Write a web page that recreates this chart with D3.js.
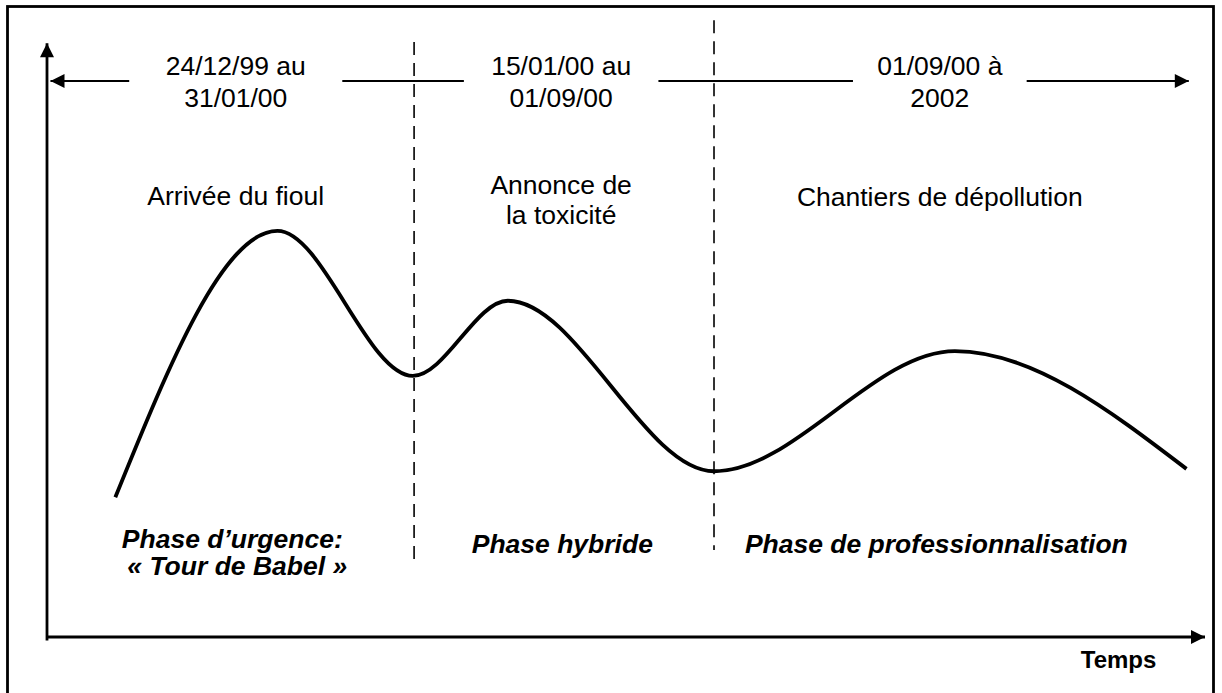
<!DOCTYPE html>
<html><head><meta charset="utf-8">
<script src="https://cdn.jsdelivr.net/npm/d3@7"></script>
<style>body{margin:0;background:#fff}svg{display:block}text{font-family:"Liberation Sans",Arial,sans-serif;fill:#000}</style>
</head><body>
<svg id="c" width="1222" height="693"></svg>
<script>
// Curve points (time, intensity) in arbitrary units 0-100
const curveTime = [5.9, 19.9, 31.6, 39.8, 57.6, 78.4, 98.4];
const curveValue = [23.6, 68.6, 44.1, 56.8, 28.0, 48.3, 28.4];
// Phase boundaries (time units)
const boundaries = [31.7, 57.6];
const boundaryTop = [100.5, 104.2];
const boundaryBottom = [12.2, 14.7];
// Period labels (top)
const periodLabels = [["24/12/99 au","31/01/00"],["15/01/00 au","01/09/00"],["01/09/00 à","2002"]];
const periodCenter = [16.3, 44.4, 77.1];
const periodHalfWidth = [9.2, 8.4, 7.5];
const eventLabels = [["Arrivée du fioul"],["Annonce de","la toxicité"],["Chantiers de dépollution"]];
const eventCenter = [16.3, 44.4, 77.1];
const phaseLabels = [["Phase d\u2019urgence:","\u00ab Tour de Babel \u00bb"],["Phase hybride"],["Phase de professionnalisation"]];
const phaseCenter = [16.0, 44.5, 76.8];
const axisLabel = "Temps";

const svg = d3.select("#c");
const x = d3.scaleLinear().domain([0,100]).range([47,1205]);
const y = d3.scaleLinear().domain([0,100]).range([637,45]);

const defs = svg.append("defs");
defs.append("marker").attr("id","ah").attr("viewBox","0 0 10 10").attr("refX",10).attr("refY",5)
  .attr("markerWidth",18).attr("markerHeight",14).attr("markerUnits","userSpaceOnUse").attr("orient","auto-start-reverse")
  .append("path").attr("d","M0,0 L10,5 L0,10 Z").attr("fill","#000");

// frame
svg.append("rect").attr("x",7.5).attr("y",6.5).attr("width",1206).attr("height",690).attr("fill","none").attr("stroke","#000").attr("stroke-width",2.8);

// axes
svg.append("line").attr("x1",x(0)).attr("x2",x(0)).attr("y1",y(-0.6)).attr("y2",y(100.3)).attr("stroke","#000").attr("stroke-width",2.8).attr("marker-end","url(#ah)");
svg.append("line").attr("x1",x(0)).attr("x2",x(100)).attr("y1",y(0)).attr("y2",y(0)).attr("stroke","#000").attr("stroke-width",2.8).attr("marker-end","url(#ah)");
svg.append("text").attr("x",x(95.8)).attr("y",668).attr("text-anchor","end").attr("font-weight","bold").attr("font-size",24).text(axisLabel);

// boundaries
boundaries.forEach((b,i)=>{
  svg.append("line").attr("x1",x(b)).attr("x2",x(b)).attr("y1",y(boundaryTop[i])).attr("y2",y(boundaryBottom[i]))
    .attr("stroke","#000").attr("stroke-width",1.6).attr("stroke-dasharray","13,8");
});

// top period arrow line segments
const arrowY = 81;
const tStart = 0.3, tEnd = 98.6;
const segs = [];
let prev = tStart;
periodCenter.forEach((c,i)=>{ segs.push([prev, c-periodHalfWidth[i]]); prev = c+periodHalfWidth[i]; });
segs.push([prev, tEnd]);
segs.forEach((s,i)=>{
  const l = svg.append("line").attr("y1",arrowY).attr("y2",arrowY).attr("stroke","#000").attr("stroke-width",2.2);
  if(i===0){ l.attr("x1",x(s[1])).attr("x2",x(s[0])).attr("marker-end","url(#ah)"); }
  else if(i===segs.length-1){ l.attr("x1",x(s[0])).attr("x2",x(s[1])).attr("marker-end","url(#ah)"); }
  else { l.attr("x1",x(s[0])).attr("x2",x(s[1])); }
});
periodLabels.forEach((lines,i)=>{
  const t = svg.append("text").attr("text-anchor","middle").attr("font-size",26.5);
  lines.forEach((ln,j)=>t.append("tspan").attr("x",x(periodCenter[i])).attr("y",75+j*32).text(ln));
});
// event labels
const eventY = [205,194,206];
eventLabels.forEach((lines,i)=>{
  const t = svg.append("text").attr("text-anchor","middle").attr("font-size",26.5);
  lines.forEach((ln,j)=>t.append("tspan").attr("x",x(eventCenter[i])).attr("y",eventY[i]+j*30).text(ln));
});
// phase labels
const phaseY = [548,553,553];
phaseLabels.forEach((lines,i)=>{
  const t = svg.append("text").attr("text-anchor","middle").attr("font-size",26.5).attr("font-weight","bold").attr("font-style","italic");
  lines.forEach((ln,j)=>t.append("tspan").attr("x",x(phaseCenter[i])+(j*5)).attr("y",phaseY[i]+j*27).text(ln));
});

// curve
const pts = curveTime.map((t,i)=>[t,curveValue[i]]);
svg.append("path").datum(pts).attr("fill","none").attr("stroke","#000").attr("stroke-width",3.8)
  .attr("d", d3.line().x(d=>x(d[0])).y(d=>y(d[1])).curve(d3.curveMonotoneX));
</script>
</body></html>
